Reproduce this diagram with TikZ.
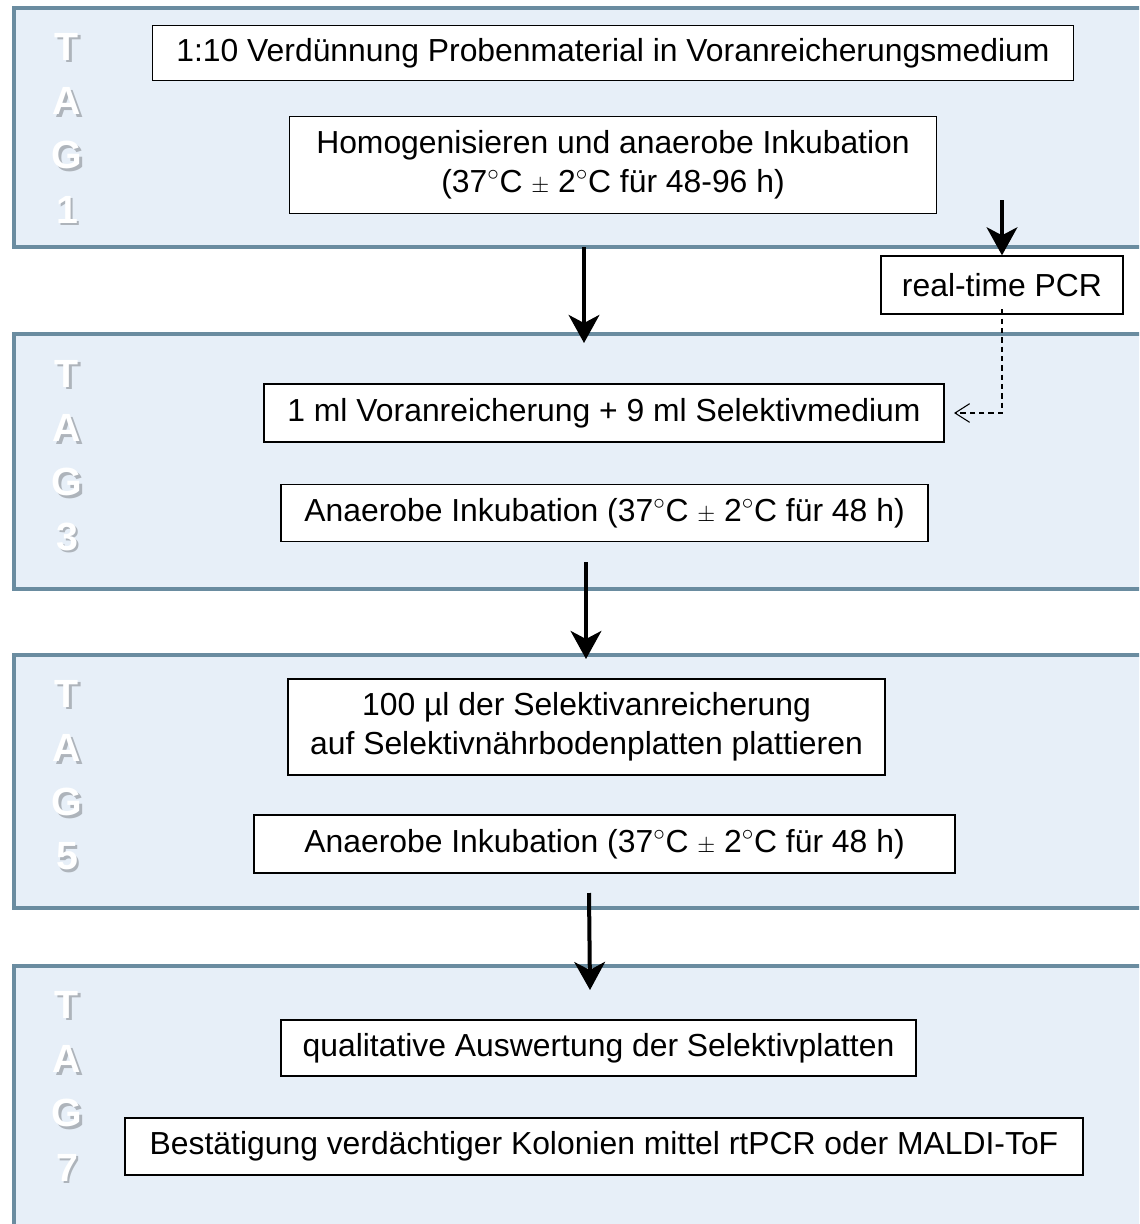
\documentclass[tikz,border=0pt]{standalone}
\usepackage{fontspec}
\setmainfont{Liberation Sans}
\usetikzlibrary{arrows.meta}

\definecolor{panelfill}{HTML}{E7EFF8}
\definecolor{panelline}{HTML}{6A8CA0}
\definecolor{tagshade}{HTML}{AEB4BB}

\newcommand{\plusmin}{{\fontsize{17}{17}\selectfont$\pm$}}
\newcommand{\shadechar}[1]{\makebox[0pt][l]{\kern1.9pt\raisebox{-1.9pt}{\textcolor{tagshade}{#1}}}#1}

\begin{document}
\begin{tikzpicture}[x=0.75pt, y=-0.75pt,
    panel/.style={draw=panelline, line width=3pt, fill=panelfill},
    stepbox/.style={draw, line width=1pt, fill=white, inner sep=0pt, align=center,
      font=\fontsize{23.9}{29}\selectfont},
    flow/.style={line width=3pt, -{Stealth[length=21pt, width=23pt, inset=6pt]}},
    hint/.style={line width=0.8pt, dash pattern=on 4pt off 3pt,
      -{Straight Barb[length=11pt, width=14pt]}},
    tagletter/.style={text=white, font=\fontsize{29.5}{30}\bfseries\selectfont}]

    \useasboundingbox (0,0) rectangle (1139,1224);
    \clip (0,0) rectangle (1139,1224);

    % day panels
    \draw[panel] (14,8) rectangle (1170,247);
    \draw[panel] (14,334) rectangle (1170,589);
    \draw[panel] (14,655) rectangle (1170,908);
    \draw[panel] (14,966) rectangle (1170,1250);

    % TAG labels
    \foreach \d/\y in {1/48, 3/375, 5/695, 7/1006} {
        \foreach \ch [count=\k from 0] in {T,A,G,\d} {
            \node[tagletter] (tag\d-\k) at (67, \y+\k*54.3) {\shadechar{\ch}};
        }
    }

    % steps
    \node[stepbox, minimum width=690.75pt, minimum height=41.25pt] (dilute) at (613,53)
        {1:10 Verdünnung Probenmaterial in Voranreicherungsmedium};
    \node[stepbox, minimum width=485.25pt, minimum height=72.75pt] (homog) at (613,165)
        {Homogenisieren und anaerobe Inkubation\\(37$^\circ$C \plusmin{} 2$^\circ$C für 48-96 h)};
    \node[stepbox, minimum width=181.5pt, minimum height=43.5pt] (pcr) at (1002,285)
        {real-time PCR};
    \node[stepbox, minimum width=510pt, minimum height=43.5pt] (select) at (604,413)
        {1 ml Voranreicherung + 9 ml Selektivmedium};
    \node[stepbox, minimum width=485.25pt, minimum height=42.75pt] (incub3) at (604.5,513)
        {Anaerobe Inkubation (37$^\circ$C \plusmin{} 2$^\circ$C für 48 h)};
    \node[stepbox, minimum width=447.75pt, minimum height=72pt] (plate) at (586.5,727)
        {100 µl der Selektivanreicherung\\auf Selektivnährbodenplatten plattieren};
    \node[stepbox, minimum width=525.75pt, minimum height=43.5pt] (incub5) at (604.5,844)
        {Anaerobe Inkubation (37$^\circ$C \plusmin{} 2$^\circ$C für 48 h)};
    \node[stepbox, minimum width=476.25pt, minimum height=42pt] (evaluate) at (598.5,1048)
        {qualitative Auswertung der Selektivplatten};
    \node[stepbox, minimum width=718.5pt, minimum height=42.75pt] (confirm) at (604,1146.5)
        {Bestätigung verdächtiger Kolonien mittel rtPCR oder MALDI-ToF};

    % arrows
    \coordinate (out1) at (584,247);
    \coordinate (in3) at (584,343);
    \coordinate (out3) at (586,562);
    \coordinate (in5) at (586,659);
    \coordinate (out5) at (589,893);
    \coordinate (in7) at (590,990);
    \coordinate (pcrstart) at (1002,200);

    \draw[flow] (out1) -- (in3);
    \draw[flow] (out3) -- (in5);
    \draw[flow] (out5) -- (in7);
    \draw[flow] (pcrstart) -- (pcr.north);
    \draw[hint] ([yshift=4pt]pcr.south) |- ([xshift=7pt]select.east);

\end{tikzpicture}
\end{document}
